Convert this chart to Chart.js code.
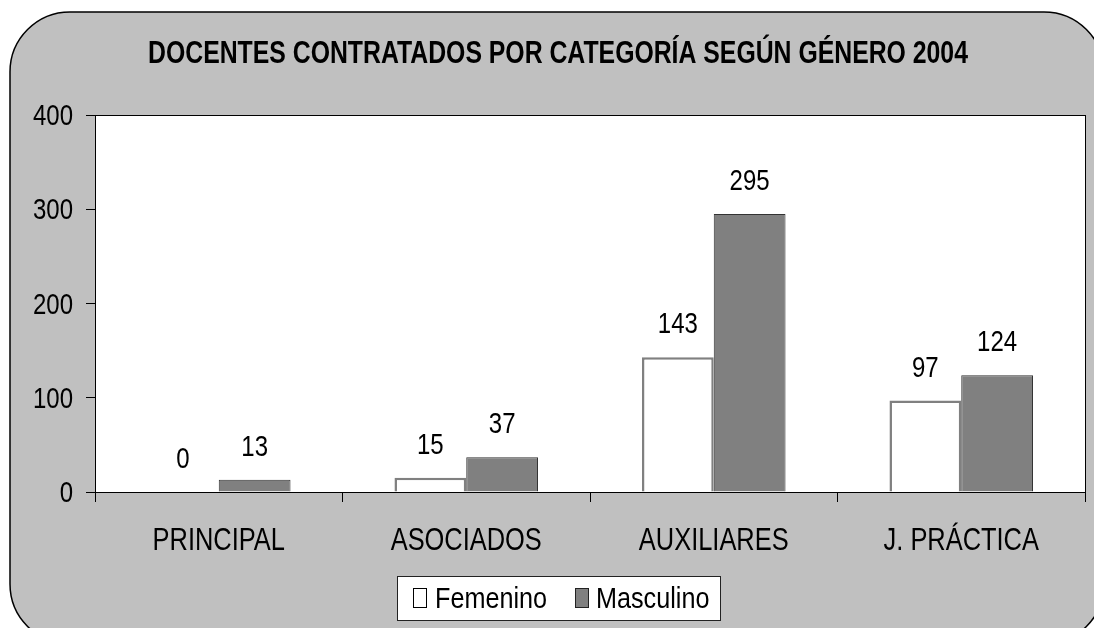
<!DOCTYPE html>
<html>
<head>
  <title>Docentes contratados 2004</title>
  <script src="https://cdn.jsdelivr.net/npm/chart.js"></script>
  <style>
    body { margin: 0; background: #fff; }
  </style>
</head>
<body>
  <canvas id="chart" width="1094" height="628"></canvas>

  <script>
    const categories = ['PRINCIPAL', 'ASOCIADOS', 'AUXILIARES', 'J. PRÁCTICA'];
    const femenino = [0, 15, 143, 97];
    const masculino = [13, 37, 295, 124];
    const yTicks = [0, 100, 200, 300, 400];
    const title = 'DOCENTES CONTRATADOS POR CATEGORÍA SEGÚN GÉNERO 2004';

    // no narrow font installed, so text is squeezed horizontally to look like Arial Narrow
    const FONT = "'Liberation Sans', Arial, sans-serif";
    const SQUEEZE = 0.8;

    function narrowText(ctx, text, x, y, font, align, squeeze) {
      ctx.save();
      ctx.font = font;
      ctx.textAlign = align;
      ctx.textBaseline = 'alphabetic';
      ctx.fillStyle = '#000';
      ctx.translate(x, y);
      ctx.scale(squeeze || SQUEEZE, 1);
      ctx.fillText(text, 0, 0);
      ctx.restore();
    }

    // background, plot area, frame, texts and boxed legend
    const decor = {
      id: 'decor',
      beforeDraw(chart) {
        const ctx = chart.ctx;
        const a = chart.chartArea;
        ctx.save();
        ctx.fillStyle = '#fff';
        ctx.fillRect(0, 0, chart.width, chart.height);
        ctx.beginPath();
        ctx.roundRect(10, 12, 1094, 632, 60);
        ctx.fillStyle = '#c0c0c0';
        ctx.fill();
        ctx.lineWidth = 1.5;
        ctx.strokeStyle = '#000';
        ctx.stroke();
        ctx.fillStyle = '#fff';
        ctx.fillRect(a.left, a.top, a.right - a.left, a.bottom - a.top);
        ctx.restore();
      },
      afterDraw(chart) {
        const ctx = chart.ctx;
        const a = chart.chartArea;
        ctx.save();
        ctx.strokeStyle = '#000';
        ctx.lineWidth = 1;
        ctx.strokeRect(a.left + 0.5, a.top + 0.5, a.right - a.left, a.bottom - a.top);
        ctx.restore();

        narrowText(ctx, title, 558, 63, 'bold 32px ' + FONT, 'center', 0.775);

        // axis labels
        const ys = chart.scales.y;
        yTicks.forEach(v => {
          narrowText(ctx, String(v), 73, ys.getPixelForValue(v) + 10, '30px ' + FONT, 'right');
        });
        const xs = chart.scales.x;
        categories.forEach((c, i) => {
          narrowText(ctx, c, xs.getPixelForValue(i), 550, '31px ' + FONT, 'center', 0.82);
        });

        // value labels
        chart.data.datasets.forEach((ds, i) => {
          chart.getDatasetMeta(i).data.forEach((bar, j) => {
            narrowText(ctx, String(ds.data[j]), bar.x, bar.y - 24, '30px ' + FONT, 'center');
          });
        });

        // legend
        ctx.save();
        ctx.fillStyle = '#fff';
        ctx.fillRect(397, 576, 323, 44);
        ctx.strokeStyle = '#222';
        ctx.lineWidth = 1;
        ctx.strokeRect(397.5, 576.5, 323, 44);
        const items = [
          { x: 413, fill: '#fff', stroke: '#000', text: 'Femenino', tx: 435 },
          { x: 575, fill: '#808080', stroke: '#222', text: 'Masculino', tx: 596 }
        ];
        items.forEach(it => {
          ctx.fillStyle = it.fill;
          ctx.fillRect(it.x, 588, 13, 19);
          ctx.strokeStyle = it.stroke;
          ctx.strokeRect(it.x + 0.5, 588.5, 13, 19);
          narrowText(ctx, it.text, it.tx, 608, '30px ' + FONT, 'left', 0.84);
        });
        ctx.restore();
      }
    };

    new Chart(document.getElementById('chart'), {
      type: 'bar',
      data: {
        labels: categories,
        datasets: [
          {
            label: 'Femenino',
            data: femenino,
            backgroundColor: '#ffffff',
            borderColor: '#808080',
            borderWidth: 2.5
          },
          {
            label: 'Masculino',
            data: masculino,
            backgroundColor: '#808080',
            borderColor: '#333333',
            borderWidth: 1
          }
        ]
      },
      options: {
        responsive: false,
        animation: false,
        devicePixelRatio: 1,
        layout: { padding: { top: 115, right: 9, left: 0, bottom: 0 } },
        categoryPercentage: 0.58,
        barPercentage: 1,
        plugins: {
          legend: { display: false },
          title: { display: false },
          tooltip: { enabled: false }
        },
        scales: {
          x: {
            afterFit: s => { s.height = 136; },
            grid: { offset: true, drawOnChartArea: false, tickLength: 10, color: '#000' },
            border: { color: '#000', width: 1 },
            ticks: { display: false }
          },
          y: {
            min: 0,
            max: 400,
            afterFit: s => { s.width = 95; },
            afterBuildTicks: s => { s.ticks = yTicks.map(v => ({ value: v })); },
            grid: { drawOnChartArea: false, tickLength: 9, color: '#000' },
            border: { color: '#000', width: 1 },
            ticks: { display: false }
          }
        }
      },
      plugins: [decor]
    });
  </script>
</body>
</html>
